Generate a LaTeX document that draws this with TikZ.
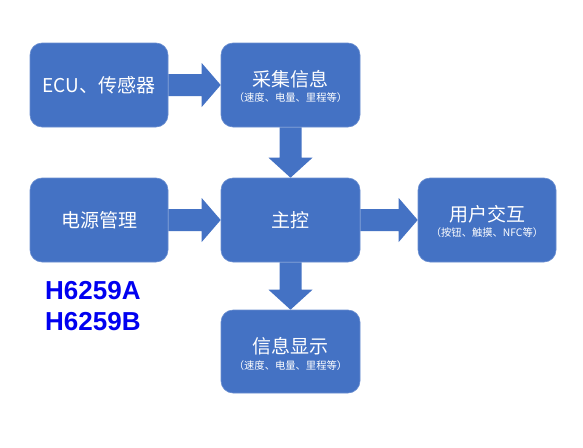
\documentclass[tikz,border=0pt]{standalone}
\usepackage{fontspec}
\setmainfont{Noto Sans CJK SC}
\newfontfamily\partfont{Liberation Sans}
\usetikzlibrary{calc}
\definecolor{boxblue}{HTML}{4472C4}
\definecolor{edgeblue}{HTML}{6A8ED0}
\definecolor{partblue}{RGB}{0,0,240}
\tikzset{
  box/.style={fill=boxblue, draw=edgeblue, line width=0.6pt, rounded corners=12pt,
    minimum width=138pt, minimum height=84pt, inner sep=0pt},
  title/.style={text=white, font=\fontsize{19}{22}\selectfont, inner sep=0pt},
  sub/.style={text=white, font=\fontsize{10.3}{12}\selectfont, inner sep=0pt},
  blk/.style={fill=boxblue},
  part/.style={text=partblue, font=\partfont\bfseries\fontsize{26}{30}\selectfont,
    inner sep=0pt, anchor=base west}
}
\newcommand\harrow[2]{\fill[blk] let \p1=(#1.east), \p2=(#2.west) in
  (\x1,\y1+11pt) -- (\x2-19pt,\y1+11pt) -- (\x2-19pt,\y1+22pt) -- (\x2,\y1)
  -- (\x2-19pt,\y1-22pt) -- (\x2-19pt,\y1-11pt) -- (\x1,\y1-11pt) -- cycle;}
\newcommand\varrow[2]{\fill[blk] let \p1=(#1.south), \p2=(#2.north) in
  (\x1-11pt,\y1) -- (\x1-11pt,\y2+20pt) -- (\x1-22pt,\y2+20pt) -- (\x1,\y2)
  -- (\x1+22pt,\y2+20pt) -- (\x1+11pt,\y2+20pt) -- (\x1+11pt,\y1) -- cycle;}
\begin{document}
\begin{tikzpicture}[x=1pt,y=-1pt]
\useasboundingbox[fill=white] (0,0) rectangle (583,447);
% boxes
\node[box] (ecu) at (99,85) {};
\node[box, minimum width=139pt] (cj) at (290.5,85) {};
\node[box] (pwr) at (99,220) {};
\node[box, minimum width=139pt] (main) at (290.5,220) {};
\node[box] (user) at (487,220) {};
\node[box, minimum width=139pt, minimum height=83pt] (disp) at (290.5,351.5) {};
% texts
\node[title] (ecut) at (ecu.center) {ECU、传感器};
\node[title] (cjt) at ([yshift=6pt]cj.center) {采集信息};
\node[sub] (cjs) at ([yshift=-13pt]cj.center) {（速度、电量、里程等）};
\node[title] (pwrt) at (pwr.center) {电源管理};
\node[title] (maint) at (main.center) {主控};
\node[title] (usert) at ([yshift=6pt]user.center) {用户交互};
\node[sub] (users) at ([yshift=-13pt]user.center) {（按钮、触摸、NFC等）};
\node[title] (dispt) at ([yshift=5pt]disp.center) {信息显示};
\node[sub] (disps) at ([yshift=-14pt]disp.center) {（速度、电量、里程等）};
% arrows
\harrow{ecu}{cj}
\harrow{pwr}{main}
\harrow{main}{user}
\varrow{cj}{main}
\varrow{main}{disp}
% part numbers
\node[part] (pa) at (45,299) {H6259A};
\node[part] (pb) at (45,330) {H6259B};
\end{tikzpicture}
\end{document}
